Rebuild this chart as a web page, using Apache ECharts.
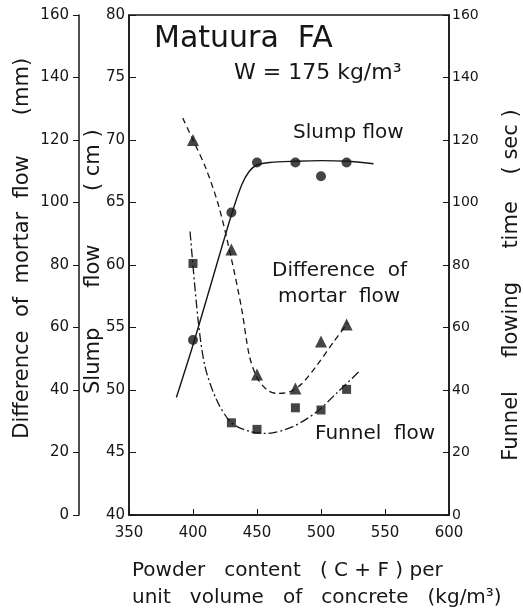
<!DOCTYPE html>
<html>
<head>
<meta charset="utf-8">
<script src="https://cdn.jsdelivr.net/npm/echarts@6/dist/echarts.min.js"></script>
<style>
  html, body { margin: 0; padding: 0; background: #fff; }
  #chart { width: 523px; height: 612px; }
</style>
</head>
<body>
<div id="chart"></div>
<script>
// measured points (powder content, kg/m3)
const powder = [400, 430, 450, 480, 500, 520];
const slumpFlow = [54, 64.2, 68.2, 68.2, 67.1, 68.2];      // cm
const mortarDiff = [120, 85, 45, 40.5, 55.5, 61];          // mm
const funnelTime = [80.5, 29.5, 27.4, 34.3, 33.6, 40.2];   // sec

// hand drawn fitting curves
const slumpCurveX = [387, 400, 415, 430, 438, 444, 450, 460, 480, 500, 520, 541];
const slumpCurveY = [49.4, 53.6, 58.8, 64.0, 66.4, 67.5, 68.0, 68.2, 68.3, 68.35, 68.3, 68.1];
const mortarCurveX = [392, 400, 410, 420, 430, 438, 444, 450, 458, 466, 476, 485, 497, 510, 521];
const mortarCurveY = [127, 120, 111, 99, 82, 66, 51, 44, 40, 38.9, 39.5, 42, 48, 55.5, 61.5];
const funnelCurveX = [397.7, 404, 409.4, 418.5, 430, 444.5, 457.6, 478, 496.6, 512, 531];
const funnelCurveY = [90.7, 62.4, 47.5, 36.8, 29.5, 26.7, 26.1, 28.3, 33, 38.9, 46.4];

const xTicks = [350, 400, 450, 500, 550, 600];

function pairs(xs, ys) {
  return xs.map((x, i) => [x, ys[i]]);
}

const ink = '#161616';
const font = 'DejaVu Sans';

const chart = echarts.init(document.getElementById('chart'), null, { renderer: 'canvas' });

chart.setOption({
  backgroundColor: '#fff',
  animation: false,
  textStyle: { fontFamily: font, color: ink },
  grid: {
    left: 129, right: 74, top: 15, bottom: 97,
    outerBoundsMode: 'none', containLabel: false,
    show: true, borderColor: ink, borderWidth: 1.5, backgroundColor: 'transparent'
  },
  title: [
    { text: 'Matuura  FA', left: 149, top: 19,
      textStyle: { fontFamily: font, fontSize: 30, fontWeight: 'normal', color: ink } },
    { text: 'W = 175 kg/m³', left: 229, top: 57,
      textStyle: { fontFamily: font, fontSize: 22, fontWeight: 'normal', color: ink } }
  ],
  graphic: [
    { type: 'text', left: 293, top: 123, style: { text: 'Slump flow', font: '20px ' + font, fill: ink } },
    { type: 'text', left: 272, top: 261, style: { text: 'Difference  of', font: '20px ' + font, fill: ink } },
    { type: 'text', left: 278, top: 287, style: { text: 'mortar  flow', font: '20px ' + font, fill: ink } },
    { type: 'text', left: 315, top: 424, style: { text: 'Funnel  flow', font: '20px ' + font, fill: ink } },
    // x axis title, two left aligned lines
    { type: 'text', left: 132, top: 561, style: { text: 'Powder   content   ( C + F ) per', font: '20px ' + font, fill: ink } },
    { type: 'text', left: 132, top: 588, style: { text: 'unit   volume   of   concrete   (kg/m³)', font: '20px ' + font, fill: ink } }
  ],
  xAxis: {
    type: 'value', min: 350, max: 600, interval: 50,
    axisLine: { lineStyle: { color: ink, width: 1.5 } },
    axisTick: { inside: true, length: 6, lineStyle: { color: ink } },
    axisLabel: { margin: 11, fontSize: 15, color: ink,
      formatter: v => xTicks.includes(v) ? String(v) : '' },
    splitLine: { show: false }
  },
  yAxis: [
    { // outer left: difference of mortar flow
      type: 'value', min: 0, max: 160, interval: 20, position: 'left', offset: 50,
      axisLine: { show: true, lineStyle: { color: ink, width: 1.5 } },
      axisTick: { show: true, length: 6, lineStyle: { color: ink } },
      axisLabel: { margin: 10, fontSize: 15, color: ink },
      splitLine: { show: false },
      name: '     Difference  of  mortar  flow      (mm)',
      nameLocation: 'middle', nameRotate: 90, nameGap: 46, nameMoveOverlap: false,
      nameTextStyle: { fontSize: 21, color: ink }
    },
    { // inner left: slump flow
      type: 'value', min: 40, max: 80, interval: 5, position: 'left', offset: 0,
      axisLine: { show: true, lineStyle: { color: ink, width: 1.5 } },
      axisTick: { show: true, inside: true, length: 7, lineStyle: { color: ink } },
      axisLabel: { margin: 4, fontSize: 15, color: ink },
      splitLine: { show: false },
      name: ' Slump      flow        ( cm )',
      nameLocation: 'middle', nameRotate: 90, nameGap: 25, nameMoveOverlap: false,
      nameTextStyle: { fontSize: 21, color: ink }
    },
    { // right: funnel flowing time
      type: 'value', min: 0, max: 160, interval: 20, position: 'right',
      axisLine: { show: true, lineStyle: { color: ink, width: 1.5 } },
      axisTick: { show: true, inside: true, length: 6, lineStyle: { color: ink } },
      axisLabel: { margin: 3, fontSize: 14, color: ink },
      splitLine: { show: false },
      name: 'Funnel     flowing     time    ( sec )      ',
      nameLocation: 'middle', nameRotate: 90, nameGap: 52,
      nameTextStyle: { fontSize: 21, color: ink }
    }
  ],
  series: [
    { type: 'line', yAxisIndex: 1, data: pairs(slumpCurveX, slumpCurveY),
      smooth: 0.3, showSymbol: false, lineStyle: { color: ink, width: 1.4 } },
    { type: 'line', yAxisIndex: 0, data: pairs(mortarCurveX, mortarCurveY),
      smooth: 0.3, showSymbol: false, lineStyle: { color: ink, width: 1.3, type: [6, 4] } },
    { type: 'line', yAxisIndex: 2, data: pairs(funnelCurveX, funnelCurveY),
      smooth: 0.3, showSymbol: false, lineStyle: { color: ink, width: 1.3, type: [9, 3, 2, 3] } },
    { type: 'scatter', yAxisIndex: 1, data: pairs(powder, slumpFlow),
      symbol: 'circle', symbolSize: 10, itemStyle: { color: ink } },
    { type: 'scatter', yAxisIndex: 0, data: pairs(powder, mortarDiff),
      symbol: 'triangle', symbolSize: 12, itemStyle: { color: ink } },
    { type: 'scatter', yAxisIndex: 2, data: pairs(powder, funnelTime),
      symbol: 'rect', symbolSize: 9, itemStyle: { color: ink } }
  ]
});
</script>
</body>
</html>
